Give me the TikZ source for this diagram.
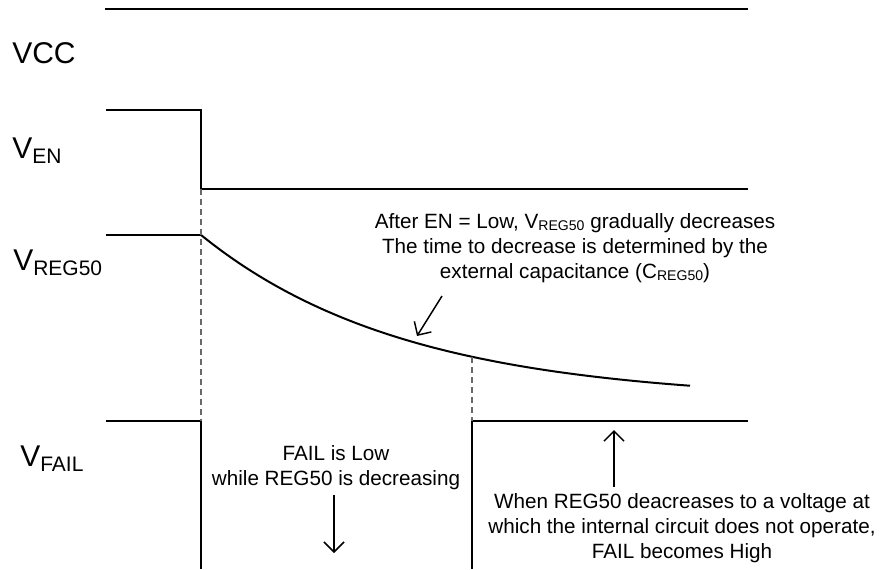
\documentclass[tikz,border=0pt]{standalone}
\usepackage{fontspec}
\setmainfont{Liberation Sans}
\usetikzlibrary{arrows.meta,calc}
\definecolor{TdcInk}{RGB}{0,0,0}
\definecolor{TdcGuide}{RGB}{105,105,105}
\newcommand{\tdcsig}[2]{#1\raisebox{-0.17em}{\scalebox{0.7}{#2}}}
\newcommand{\tdcsmall}[1]{\raisebox{-0.1em}{\scalebox{0.68}{#1}}}
\tikzset{
  tdc/wave/.style={
    draw=TdcInk,
    line width=1.5pt,
    line join=miter
  },
  tdc/guide/.style={
    draw=TdcGuide,
    line width=0.8pt,
    dash pattern=on 4.5pt off 3pt
  },
  tdc/name/.style={
    anchor=base west,
    inner sep=0pt,
    text=TdcInk,
    font=\fontsize{22.5}{27}\selectfont
  },
  tdc/note/.style={
    anchor=north,
    inner sep=0pt,
    align=center,
    text=TdcInk,
    font=\fontsize{15.5}{19}\selectfont
  },
  tdc/arrow/.style={-{Straight Barb[length=7.5pt,width=15pt]}, line width=1.1pt, draw=TdcInk}
}

\begin{document}
\begin{tikzpicture}[x=0.75pt,y=-0.75pt]
  \useasboundingbox (0,0) rectangle (887,569);
  % signal names
  \node[tdc/name] (vcc) at (12,63) {VCC};
  \node[tdc/name] (ven) at (12,158) {\tdcsig{V}{EN}};
  \node[tdc/name] (vreg) at (13,270) {\tdcsig{V}{REG50}};
  \node[tdc/name] (vfail) at (20,466) {\tdcsig{V}{FAIL}};
  % waveforms
  \draw[tdc/wave] (105,9) -- (748,9);
  \coordinate (enOff) at (201,110);
  \coordinate (enLow) at (201,189);
  \draw[tdc/wave] (106,110) -- (enOff) -- (enLow) -- (748,189);
  \coordinate (regStart) at (201,235);
  \draw[tdc/wave] (106,235) -- (regStart);
  \draw[tdc/wave] plot[domain=0:489,samples=60,smooth] ({201+\x},{235+166*(1-exp(-\x/205))});
  \coordinate (regLimit) at (472,357);
  \coordinate (failDrop) at (201,421);
  \coordinate (failRise) at (472,421);
  \draw[tdc/wave] (106,421) -- (failDrop) -- (201,569);
  \draw[tdc/wave] (472,569) -- (failRise) -- (748,421);
  % guides
  \draw[tdc/guide] (enLow) -- (failDrop);
  \draw[tdc/guide] (regLimit) -- (failRise);
  % notes
  \node[tdc/note] (capNote) at (575,213) {After EN = Low, V\tdcsmall{REG50} gradually decreases\\
    The time to decrease is determined by the\\
    external capacitance (C\tdcsmall{REG50})};
  \node[tdc/note] (lowNote) at (336,445) {FAIL is Low\\while REG50 is decreasing};
  \node[tdc/note] (highNote) at (682,493) {When REG50 deacreases to a voltage at\\
    which the internal circuit does not operate,\\
    FAIL becomes High};
  \coordinate (capTail) at (442,296);
  \coordinate (capTip) at (417,336);
  \coordinate (lowTail) at (334,495);
  \coordinate (lowTip) at (334,553);
  \coordinate (highTail) at (614,487);
  \coordinate (highTip) at (614,430);
  \draw[tdc/arrow] (capTail) -- (capTip);
  \draw[tdc/arrow] (lowTail) -- (lowTip);
  \draw[tdc/arrow] (highTail) -- (highTip);
\end{tikzpicture}
\end{document}
